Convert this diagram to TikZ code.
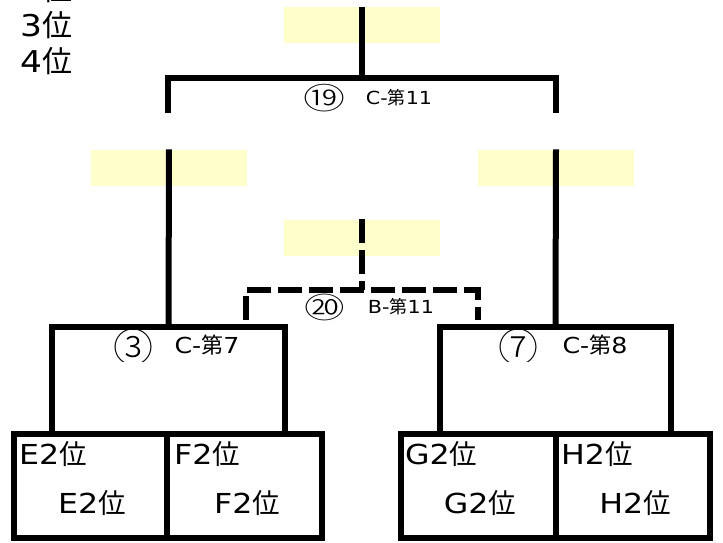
\documentclass[tikz,border=0pt]{standalone}
\usepackage{fontspec}
\setmainfont[FakeStretch=1.15]{DejaVu Sans}
\newfontfamily\jpfont{Noto Sans CJK JP}
\newfontfamily\jplight{Noto Sans CJK JP Light}
\newcommand\J[1]{{\jpfont #1}}
\newcommand\circnum[3]{\scalebox{#2}[1]{\fontsize{#3}{#3}\jplight #1}}
\definecolor{paleyel}{RGB}{255,255,204}
\tikzset{
  yel/.style={fill=paleyel, draw=none, minimum width=156pt, minimum height=36pt, inner sep=0pt},
  bx/.style={draw=black, line width=6pt, fill=none, inner sep=0pt},
  bigtxt/.style={font=\fontsize{30pt}{32pt}\selectfont, inner sep=0pt, anchor=west},
  celltxt/.style={font=\fontsize{27.5pt}{29pt}\selectfont, inner sep=0pt},
  midlab/.style={font=\fontsize{22pt}{24pt}\selectfont, inner sep=0pt},
  smalllab/.style={font=\fontsize{18pt}{20pt}\selectfont, inner sep=0pt},
  brk/.style={line width=6pt, line join=miter},
  dbrk/.style={line width=6pt, line join=miter, dash pattern=on 24pt off 7pt}
}
\begin{document}
\begin{tikzpicture}[x=1pt,y=-1pt]
\useasboundingbox (0,0) rectangle (723,543);
\clip (0,0) rectangle (723,543);
% yellow boxes
\node[yel] (y1) at (362,25) {};
\node[yel] (y2) at (169,167.5) {};
\node[yel] (y3) at (556,167.5) {};
\node[yel] (y4) at (362,237.5) {};
% top-left text
\node[bigtxt] (r2) at (20,-11) {2\J{位}};
\node[bigtxt] (r3) at (20,25) {3\J{位}};
\node[bigtxt] (r4) at (20,61) {4\J{位}};
% match boxes
\node[bx, minimum width=233pt, minimum height=107pt] (m3) at (168.5,380.5) {};
\node[bx, minimum width=231pt, minimum height=107pt] (m7) at (555.5,380.5) {};
% bottom cells
\node[bx, minimum width=153pt, minimum height=104pt] (ce) at (90.5,486) {};
\node[bx, minimum width=155pt, minimum height=104pt] (cf) at (244.5,486) {};
\node[bx, minimum width=155pt, minimum height=104pt] (cg) at (478.5,486) {};
\node[bx, minimum width=154pt, minimum height=104pt] (ch) at (633,486) {};
% top bracket
\coordinate (bl) at (168,113);
\coordinate (br) at (556,113);
\coordinate (tl) at (168,78);
\coordinate (tr) at (556,78);
\draw[brk] (bl) -- (tl) -- (tr) -- (br);
\draw[brk] (y1.north) -- (y1.north |- tl);
% verticals to match boxes
\draw[brk] (y2.north) -- (m3.north);
\draw[brk] (y3.north) -- (m7.north);
% dashed bracket
\coordinate (dl) at (246,320);
\coordinate (dr) at (478,320);
\coordinate (dtl) at (246,290);
\coordinate (dtr) at (478,290);
\draw[dbrk] (dl) -- (dtl) -- (dtr) -- (dr);
\draw[dbrk] (y4.north) -- (y4.north |- dtl);
% labels
\node[inner sep=0pt] (n19) at (324,98) {\circnum{⑲}{1.4}{30pt}};
\node[smalllab] (t19) at (399,98) {C-\J{第}11};
\node[inner sep=0pt] (n20) at (325,307) {\circnum{⑳}{1.4}{29pt}};
\node[smalllab] (t20) at (401,307) {B-\J{第}11};
\begin{scope}
\clip (100,320) rectangle (560,361);
\node[inner sep=0pt] (n3) at (133,347) {\circnum{③}{1}{40pt}};
\node[inner sep=0pt] (n7) at (518,347) {\circnum{⑦}{1}{40pt}};
\end{scope}
\node[midlab] (t3) at (207,345) {C-\J{第}7};
\node[midlab] (t7) at (595,345) {C-\J{第}8};
% cell texts
\node[celltxt, anchor=west] (e1) at (19,454) {E2\J{位}};
\node[celltxt] (e2) at (92,503) {E2\J{位}};
\node[celltxt, anchor=west] (f1) at (174,454) {F2\J{位}};
\node[celltxt] (f2) at (247,503) {F2\J{位}};
\node[celltxt, anchor=west] (g1) at (405,454) {G2\J{位}};
\node[celltxt] (g2) at (480,503) {G2\J{位}};
\node[celltxt, anchor=west] (h1) at (561,454) {H2\J{位}};
\node[celltxt] (h2) at (635,503) {H2\J{位}};
\end{tikzpicture}
\end{document}
